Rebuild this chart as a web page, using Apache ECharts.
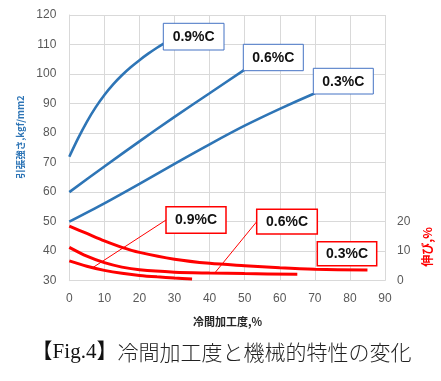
<!DOCTYPE html>
<html><head><meta charset="utf-8">
<script src="https://cdn.jsdelivr.net/npm/echarts@6/dist/echarts.min.js"></script>
<style>html,body{margin:0;padding:0;background:#fff}#c{width:441px;height:381px}</style>
</head><body><div id="c"></div>
<script>
// ---- data ----
const xTickValues = [0,10,20,30,40,50,60,70,80,90];
const leftTickValues = [30,40,50,60,70,80,90,100,110,120];
const rightTickLabels = [0,10,20];

// tensile strength (kgf/mm2) vs cold work (%)
const ts09X = [0,2.5,5,7.5,10,12.5,15,17.5,20,22.5,25,27];
const ts09Y = [72,78.2,83.8,88.7,92.9,96.5,99.6,102.3,104.7,106.9,108.9,110.4];
const ts06X = [0,10,20,30,40,50];
const ts06Y = [60,68.7,77.2,85.5,93.5,101.5];
const ts03X = [0,10,20,30,40,50,60,70];
const ts03Y = [50,56.2,62.8,69.6,76.2,82.5,88.2,93.5];

// elongation (%) vs cold work (%)
const el03X = [0,5,10,15,20,30,40,50,60,70,85];
const el03Y = [18.5,16,13.5,11.3,9.6,7.3,5.9,5.1,4.4,3.9,3.6];
const el06X = [0,5,10,15,20,30,40,50,65];
const el06Y = [11.3,8.3,6.1,4.6,3.7,2.9,2.6,2.4,2.2];
const el09X = [0,5,10,15,20,25,30,35];
const el09Y = [6.7,4.9,3.5,2.5,1.8,1.3,0.9,0.6];

const seriesNames = ['0.9%C','0.6%C','0.3%C'];
const xTitle = '冷間加工度,%';
const yTitle = '引張強さ,kgf/mm2';
const y2Title = '伸び,%';
const caption = ['【Fig.4】','冷間加工度と機械的特性の変化'];

// ---- chart ----
const pairs = (xs, ys) => xs.map((x, i) => [x, ys[i]]);
const BLUE = '#2E75B6', RED = '#FF0000', GRID = '#D9D9D9', LAB = '#595959';
const chart = echarts.init(document.getElementById('c'));
const axisLabel = {color: LAB, fontSize: 12, fontFamily: '"Liberation Sans", Arial'};
const lineS = (name, data, color, width, yIdx) => ({
  name, type: 'line', data, yAxisIndex: yIdx, smooth: 0.3, symbol: 'none',
  lineStyle: {color, width}, silent: true, z: 3
});

function box(x, y, w, h, text, stroke, lw) {
  return [
    {type: 'rect', z: 100, shape: {x, y, width: w, height: h},
     style: {fill: '#fff', stroke, lineWidth: lw}},
    {type: 'text', z: 101, x: x + w / 2, y: y + h / 2 + 0.5,
     style: {text, fill: '#111', font: 'bold 14px "Liberation Sans", Arial', align: 'center', verticalAlign: 'middle'}}
  ];
}

chart.setOption({
  animation: false,
  grid: {left: 69.3, right: 56, top: 15, bottom: 100.3},
  xAxis: {
    type: 'value', min: xTickValues[0], max: xTickValues[xTickValues.length - 1], interval: 10,
    axisLine: {show: true, lineStyle: {color: GRID}}, axisTick: {show: false},
    axisLabel: Object.assign({margin: 12}, axisLabel),
    splitLine: {show: true, lineStyle: {color: GRID}}
  },
  yAxis: [{
    type: 'value', min: leftTickValues[0], max: leftTickValues[leftTickValues.length - 1], interval: 10,
    axisLine: {show: true, lineStyle: {color: GRID}}, axisTick: {show: false},
    axisLabel: Object.assign({margin: 13}, axisLabel),
    splitLine: {show: true, lineStyle: {color: GRID}}
  }, {
    type: 'value', position: 'right', min: 0, max: 90, interval: 10,
    axisLine: {show: false}, axisTick: {show: false}, splitLine: {show: false},
    axisLabel: Object.assign({margin: 12, formatter: v => rightTickLabels.includes(v) ? String(v) : ''}, axisLabel)
  }],
  series: [
    lineS(seriesNames[0], pairs(ts09X, ts09Y), BLUE, 2.6, 0),
    lineS(seriesNames[1], pairs(ts06X, ts06Y), BLUE, 2.6, 0),
    lineS(seriesNames[2], pairs(ts03X, ts03Y), BLUE, 2.6, 0),
    lineS(seriesNames[2], pairs(el03X, el03Y), RED, 3, 1),
    lineS(seriesNames[1], pairs(el06X, el06Y), RED, 3, 1),
    lineS(seriesNames[0], pairs(el09X, el09Y), RED, 3, 1)
  ],
  graphic: [
    {type: 'line', z: 4, shape: {x1: 166, y1: 220, x2: 91.7, y2: 268.3}, style: {stroke: RED, lineWidth: 1}},
    {type: 'line', z: 4, shape: {x1: 256.7, y1: 221.7, x2: 215, y2: 272.7}, style: {stroke: RED, lineWidth: 1}},
    ...box(163.3, 23.3, 60.7, 26.7, seriesNames[0], '#4472C4', 1),
    ...box(243.3, 44.3, 60, 26.4, seriesNames[1], '#4472C4', 1),
    ...box(313.3, 68.3, 60, 25.7, seriesNames[2], '#4472C4', 1),
    ...box(166, 206.7, 60, 26.6, seriesNames[0], RED, 1.5),
    ...box(256.7, 209.3, 60.6, 24.7, seriesNames[1], RED, 1.5),
    ...box(317.3, 241.7, 59.4, 24, seriesNames[2], RED, 1.5),
    {type: 'text', x: 20, y: 137, rotation: Math.PI / 2,
     style: {text: yTitle, fill: BLUE, font: 'bold 9.5px "Noto Sans CJK JP", sans-serif', align: 'center', verticalAlign: 'middle'}},
    {type: 'text', x: 427, y: 247, rotation: Math.PI / 2,
     style: {text: y2Title, fill: RED, font: 'bold 12px "Noto Sans CJK JP", sans-serif', align: 'center', verticalAlign: 'middle'}},
    {type: 'text', x: 227.5, y: 322,
     style: {text: xTitle, fill: '#262626', font: 'bold 11px "Noto Sans CJK JP", sans-serif', align: 'center', verticalAlign: 'middle'}},
    {type: 'text', x: 221.5, y: 352,
     style: {
       text: '{a|' + caption[0] + '}{b|' + caption[1] + '}',
       align: 'center', verticalAlign: 'middle',
       rich: {
         a: {fill: '#111', font: '21px "Liberation Serif", "Noto Sans CJK JP", serif'},
         b: {fill: '#222', font: '300 21px "Noto Sans CJK JP", sans-serif'}
       }
     }}
  ]
});
</script></body></html>
